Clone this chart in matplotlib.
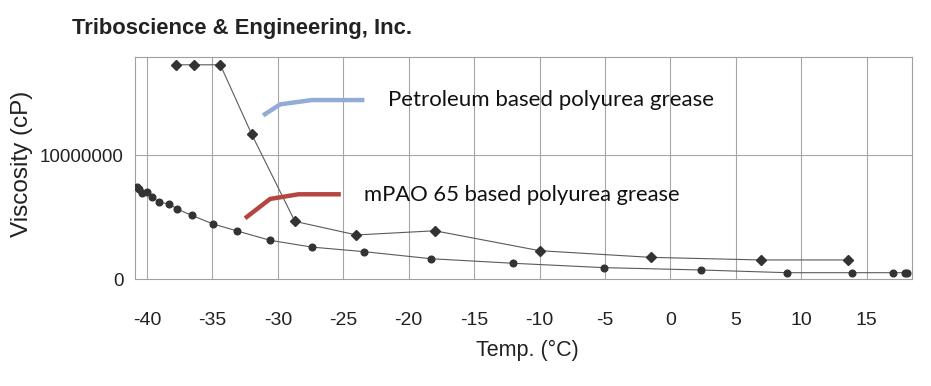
import matplotlib
matplotlib.use("Agg")
import matplotlib.pyplot as plt

# Petroleum based polyurea grease (diamonds)
petro_temp = [-37.8, -36.4, -34.4, -32.0, -28.7, -24.0, -18.0, -10.0, -1.5, 6.9, 13.6]
petro_visc = [1.732e7, 1.732e7, 1.732e7, 1.170e7, 4.66e6, 3.56e6, 3.90e6, 2.29e6, 1.75e6, 1.54e6, 1.54e6]

# mPAO 65 based polyurea grease (circles)
mpao_temp = [-40.8, -40.6, -40.35, -40.0, -39.6, -39.1, -38.3, -37.7, -36.6, -34.95, -33.1,
             -30.6, -27.4, -23.4, -18.3, -12.0, -5.1, 2.3, 8.9, 13.9, 17.0, 17.9, 18.1]
mpao_visc = [7.42e6, 7.25e6, 6.97e6, 7.01e6, 6.63e6, 6.22e6, 6.06e6, 5.66e6, 5.15e6, 4.45e6, 3.88e6,
             3.13e6, 2.58e6, 2.21e6, 1.64e6, 1.27e6, 0.92e6, 0.73e6, 0.51e6, 0.51e6, 0.51e6, 0.51e6, 0.51e6]

# hand-drawn legend strokes
blue_x = [-31.13, -29.83, -27.41, -23.39]
blue_y = [1.323e7, 1.412e7, 1.447e7, 1.447e7]
red_x = [-32.51, -30.6, -28.43, -25.19]
red_y = [4.91e6, 6.47e6, 6.85e6, 6.85e6]

xticks = [-40, -35, -30, -25, -20, -15, -10, -5, 0, 5, 10, 15]
yticks = [0, 10000000]

fig = plt.figure(figsize=(9.31, 3.86), dpi=100)
ax = fig.add_axes([0.145, 0.2772, 0.8350, 0.5751])

ax.set_xlim(-40.92, 18.49)
ax.set_ylim(0, 1.795e7)

for t in xticks:
    ax.axvline(t, color="#a6a6a6", lw=0.8, zorder=0)
ax.axhline(1e7, color="#a6a6a6", lw=0.8, zorder=0)

ax.plot(petro_temp, petro_visc, color="#5a5a5a", lw=0.8, marker="D", ms=5.2,
        mfc="#333333", mec="#333333", zorder=3)
ax.plot(mpao_temp, mpao_visc, color="#5a5a5a", lw=0.8, marker="o", ms=4.8,
        mfc="#333333", mec="#333333", zorder=3)

ax.plot(blue_x, blue_y, color="#92acd6", lw=3.2, solid_capstyle="butt", zorder=4)
ax.plot(red_x, red_y, color="#b5463f", lw=3.2, solid_capstyle="butt", zorder=4)

cal = ["Lato", "DejaVu Sans"]
ax.text(-21.55, 1.445e7, "Petroleum based polyurea grease", family=cal, fontsize=16,
        va="center", ha="left", color="#111111")
ax.text(-23.45, 6.8e6, "mPAO 65 based polyurea grease", family=cal, fontsize=15.8,
        va="center", ha="left", color="#111111")

for s in ax.spines.values():
    s.set_color("#a0a0a0")
    s.set_linewidth(0.8)

narrow = ["Liberation Sans", "DejaVu Sans"]
ax.set_xticks(xticks)
ax.set_xticklabels([str(t) for t in xticks], family=narrow, fontsize=14, color="#222222")
ax.set_yticks(yticks)
ax.set_yticklabels([str(t) for t in yticks], family=narrow, fontsize=13.5, color="#222222")
ax.tick_params(axis="x", length=0, pad=24)
ax.tick_params(axis="y", length=0, pad=8)

ax.set_xlabel("Temp. (°C)", family=narrow, fontsize=15.5, color="#222222", labelpad=0)
ax.xaxis.set_label_coords(0.5045, -0.272)
ax.set_ylabel("Viscosity (cP)", family=narrow, fontsize=17.5, color="#222222")
ax.yaxis.set_label_coords(-0.131, 0.52)

fig.text(0.077, 0.927, "Triboscience & Engineering, Inc.", family=narrow, fontsize=15.8,
         fontweight="bold", color="#222222", va="center", ha="left")

fig.savefig("out.png", dpi=100, facecolor="white")
